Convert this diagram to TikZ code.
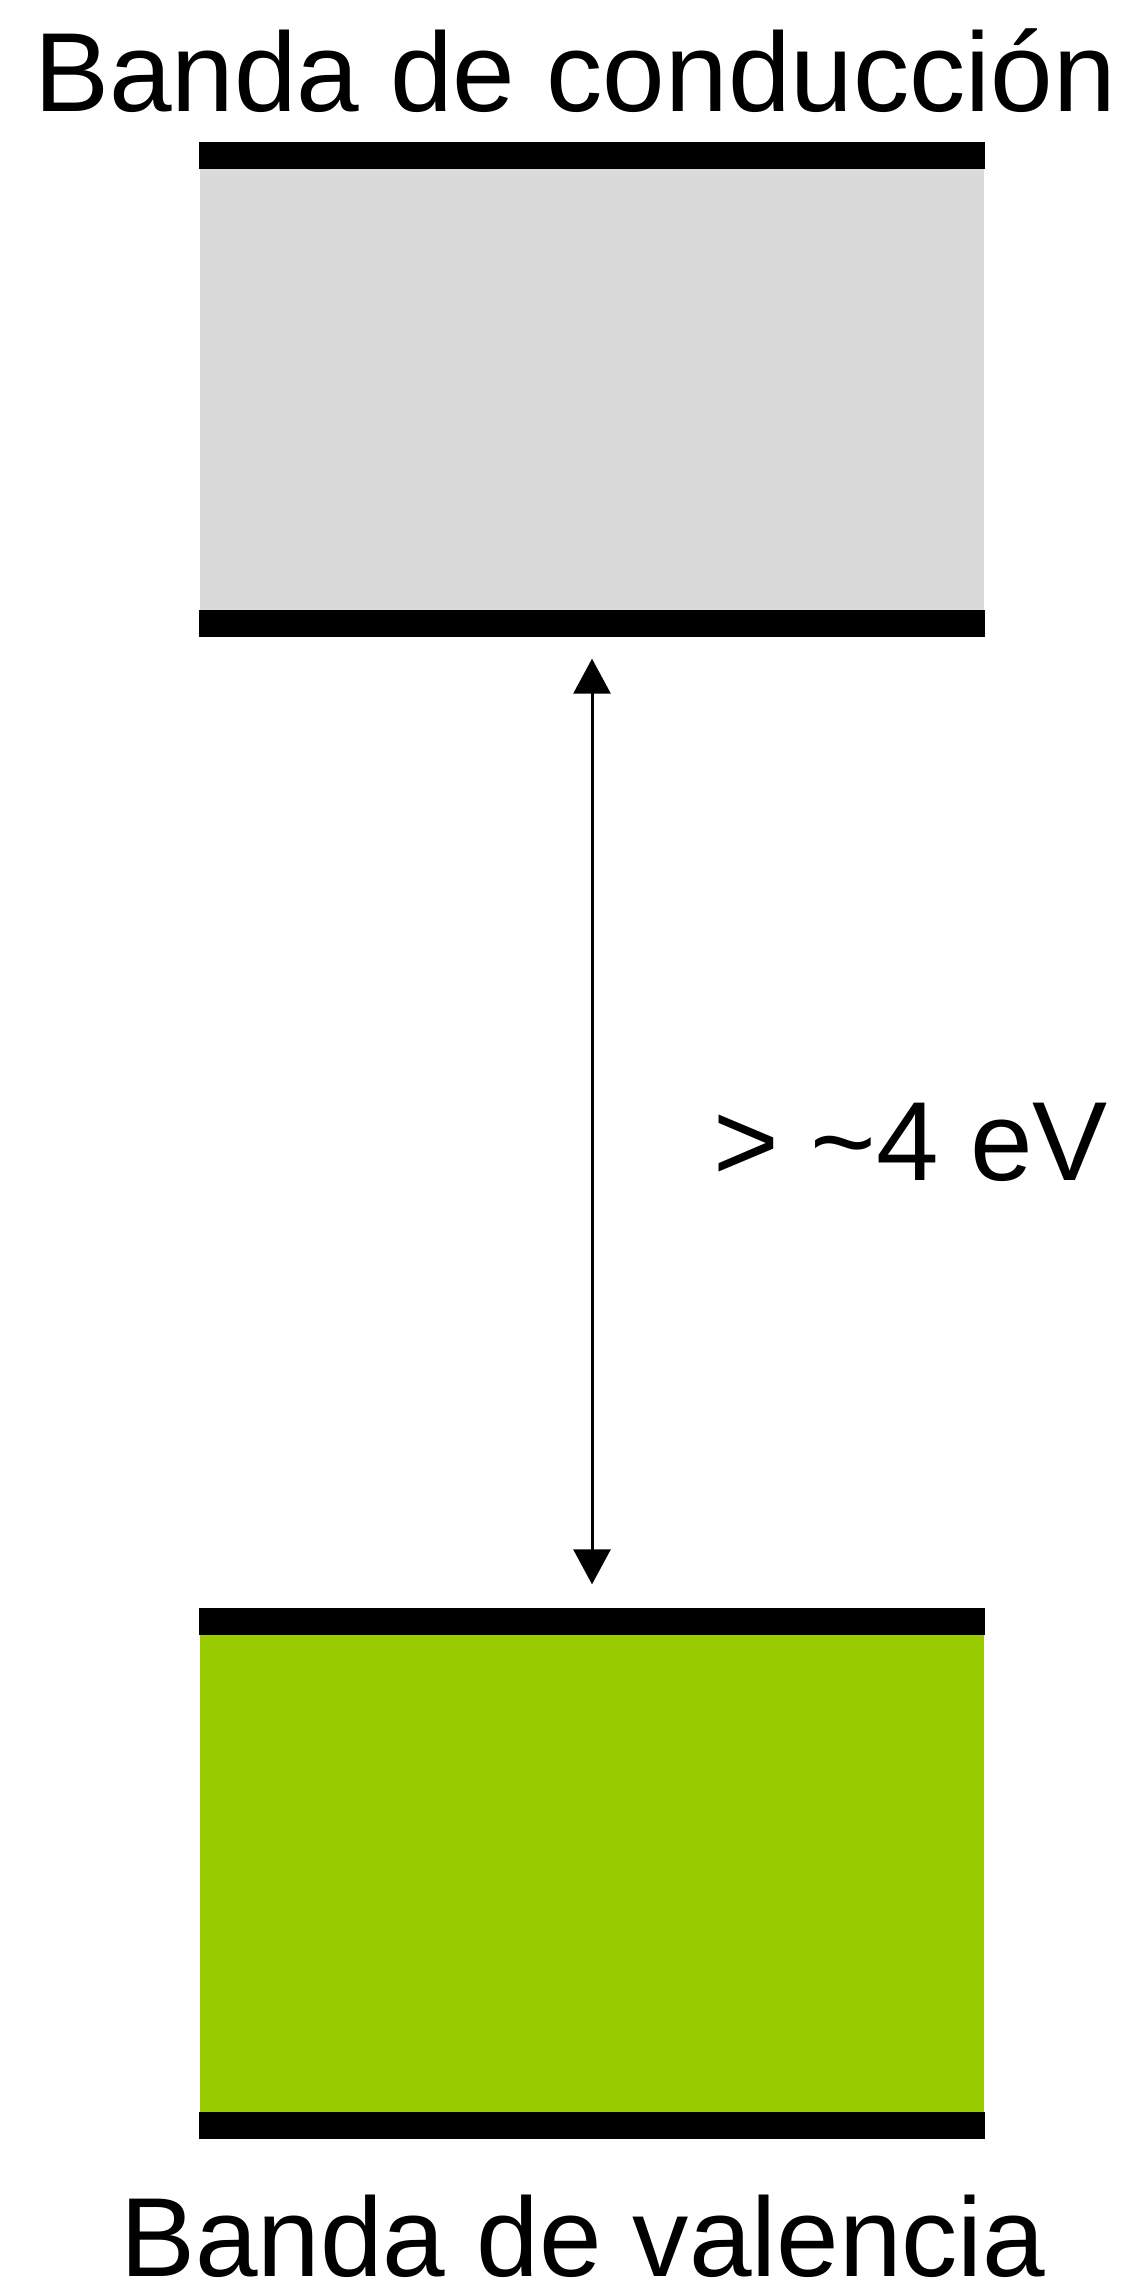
\documentclass[tikz,border=0pt]{standalone}
\usepackage{fontspec}
\setmainfont{Liberation Sans}
\usetikzlibrary{arrows.meta}

\definecolor{grisbanda}{HTML}{DADADA}
\definecolor{verdebanda}{HTML}{99CC00}

\begin{document}
\begin{tikzpicture}[x=0.1mm,y=-0.1mm,>={Triangle[length=3.5mm,width=3.7mm]},
    banda/.style={rectangle,inner sep=0pt,minimum width=78.4mm},
    borde/.style={line width=2.7mm},
    rotulo/.style={inner sep=0pt,font=\fontsize{32}{38}\selectfont}]
\useasboundingbox (0,0) rectangle (1128,2296);

% banda de conduccion (gris)
\node[banda,fill=grisbanda,minimum height=49.4mm] (cond) at (592,390) {};
\draw[borde] ([yshift=-1.35mm]cond.north west) -- ([yshift=-1.35mm]cond.north east);
\draw[borde] ([yshift=1.45mm]cond.south west) -- ([yshift=1.45mm]cond.south east);

% banda de valencia (verde)
\node[banda,fill=verdebanda,minimum height=52.8mm] (val) at (592,1873) {};
\draw[borde] ([yshift=-1.3mm]val.north west) -- ([yshift=-1.3mm]val.north east);
\draw[borde] ([yshift=1.2mm]val.south west) -- ([yshift=1.2mm]val.south east);

% rotulos
\node[rotulo,anchor=base] (tcond) at (575,112) {Banda de conducción};
\node[rotulo,anchor=base] (tval) at (583,2276) {Banda de valencia};

% gap de energia
\draw[<->,line width=0.3mm] ([yshift=-2.1mm]cond.south) -- ([yshift=2.4mm]val.north);
\node[rotulo,anchor=base west] (gap) at (713,1180) {> \textasciitilde4 eV};

\end{tikzpicture}
\end{document}
